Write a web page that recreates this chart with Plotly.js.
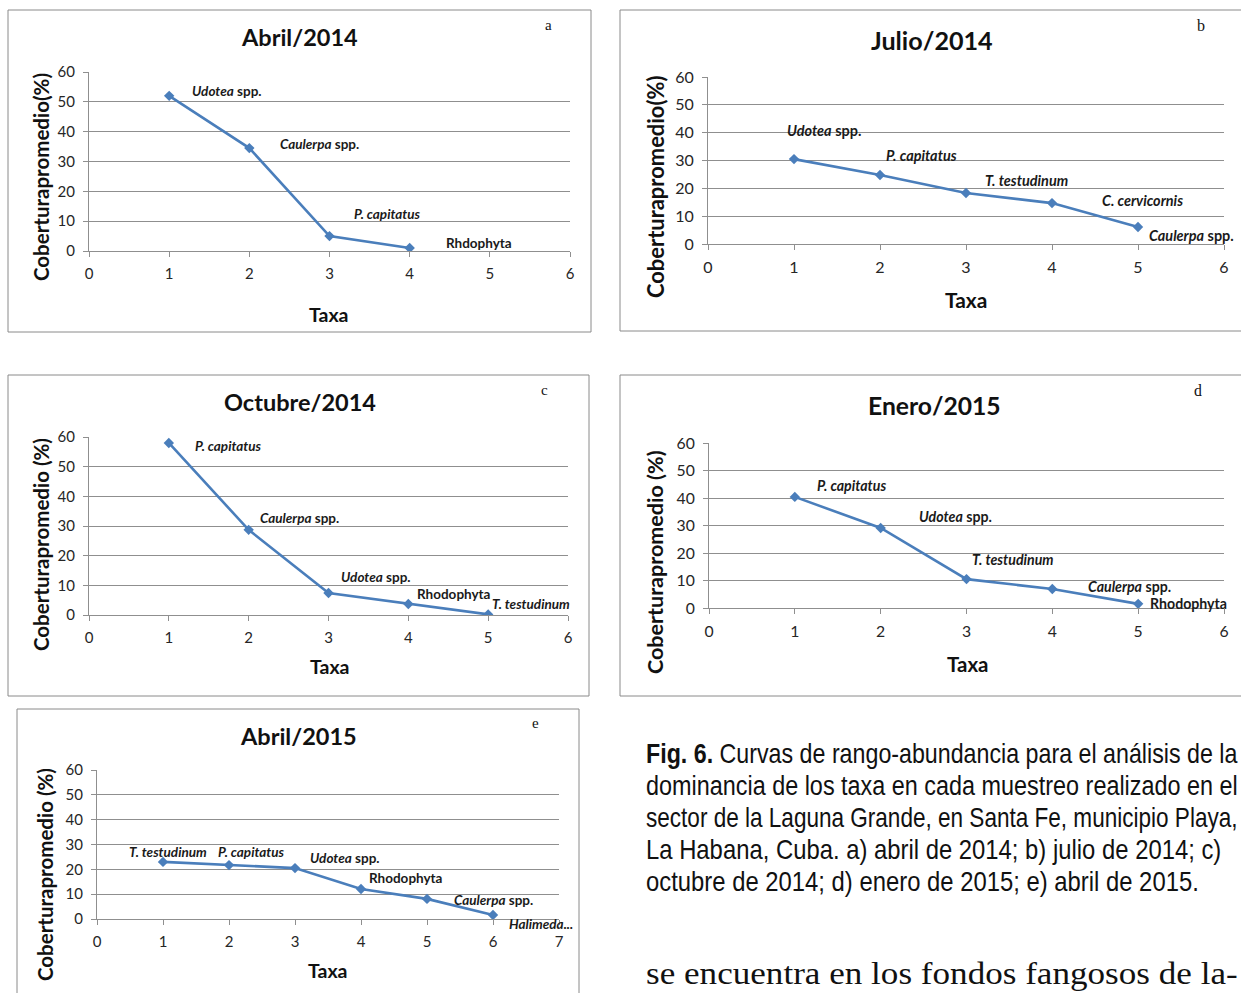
<!DOCTYPE html>
<html><head><meta charset="utf-8">
<script src="https://cdn.plot.ly/plotly-3.0.1.min.js"></script>
<style>html,body{margin:0;padding:0;background:#fff}</style>
</head><body><div id="chart" style="width:1241px;height:993px"></div>
<script>
// ---------------- data ----------------
const panelTitles = ["Abril/2014", "Julio/2014", "Octubre/2014", "Enero/2015", "Abril/2015"];
const panelLetters = ["a", "b", "c", "d", "e"];
const yAxisTitles = ["Coberturapromedio(%)", "Coberturapromedio(%)", "Coberturapromedio (%)", "Coberturapromedio (%)", "Coberturapromedio (%)"];
const xAxisTitle = "Taxa";
const yTicks = [0, 10, 20, 30, 40, 50, 60];

const rankA = [1, 2, 3, 4];
const coverA = [52, 34.5, 5, 1];
const taxaA = ["<i>Udotea</i> spp.", "<i>Caulerpa</i> spp.", "<i>P. capitatus</i>", "Rhdophyta"];

const rankB = [1, 2, 3, 4, 5];
const coverB = [30.5, 24.8, 18.3, 14.7, 6.1];
const taxaB = ["<i>Udotea</i> spp.", "<i>P. capitatus</i>", "<i>T. testudinum</i>", "<i>C. cervicornis</i>", "<i>Caulerpa</i> spp."];

const rankC = [1, 2, 3, 4, 5];
const coverC = [58, 28.7, 7.4, 3.7, 0.2];
const taxaC = ["<i>P. capitatus</i>", "<i>Caulerpa</i> spp.", "<i>Udotea</i> spp.", "Rhodophyta", "<i>T. testudinum</i>"];

const rankD = [1, 2, 3, 4, 5];
const coverD = [40.4, 29.1, 10.5, 6.9, 1.5];
const taxaD = ["<i>P. capitatus</i>", "<i>Udotea</i> spp.", "<i>T. testudinum</i>", "<i>Caulerpa</i> spp.", "Rhodophyta"];

const rankE = [1, 2, 3, 4, 5, 6];
const coverE = [23, 21.7, 20.5, 12.1, 8.1, 1.6];
const taxaE = ["<i>T. testudinum</i>", "<i>P. capitatus</i>", "<i>Udotea</i> spp.", "Rhodophyta", "<i>Caulerpa</i> spp.", "<i>Halimeda...</i>"];

const xMax = [6, 6, 6, 6, 7];

const captionLines = [
  "<b>Fig. 6.</b> Curvas de rango-abundancia para el análisis de la",
  "dominancia de los taxa en cada muestreo realizado en el",
  "sector de la Laguna Grande, en Santa Fe, municipio Playa,",
  "La Habana, Cuba. a) abril de 2014; b) julio de 2014; c)",
  "octubre de 2014; d) enero de 2015; e) abril de 2015."
];
const bodyText = "se encuentra en los fondos fangosos de la-";

// ---------------- geometry / style (pixels) ----------------
const W = 1241, H = 993;
const px = v => v / W, py = v => 1 - v / H;

const geo = [
  {box: [8, 10, 591, 332], plot: [89, 570, 72, 251], title: [299, 37], letter: [548, 25], ytitle: [41, 177], xtitle: [329, 314], s: 1.0},
  {box: [620, 10, 1260, 331], plot: [708, 1224, 77, 244], title: [932, 40], letter: [1201, 25], ytitle: [655, 187], xtitle: [966, 300], s: 1.07},
  {box: [8, 375, 589, 696], plot: [89, 568, 437, 615], title: [300, 402], letter: [544, 390], ytitle: [41, 545], xtitle: [330, 666], s: 1.0},
  {box: [620, 375, 1260, 696], plot: [709, 1224, 443, 608], title: [934, 405], letter: [1198, 390], ytitle: [655, 562], xtitle: [967, 664], s: 1.05},
  {box: [17, 709, 579, 1010], plot: [97, 559, 770, 919], title: [298, 736], letter: [535, 723], ytitle: [45, 875], xtitle: [328, 970], s: 1.0}
];

// label offsets (left edge dx, center dy) in pixels relative to the point
const labelOffsets = [
  [[21, -5], [29, -4], [22, -22], [34, -5]],
  [[-9, -29], [4, -19], [17, -13], [48, -3], [9, 8]],
  [[24, 3], [9, -12], [10, -16], [7, -10], [2, -10]],
  [[20, -11], [36, -11], [4, -20], [34, -3], [10, 0]],
  [[-36, -10], [-13, -13], [13, -10], [6, -11], [25, 1], [14, 9]]
];

const ranks = [rankA, rankB, rankC, rankD, rankE];
const covers = [coverA, coverB, coverC, coverD, coverE];
const taxa = [taxaA, taxaB, taxaC, taxaD, taxaE];

const FONT = "Lato, 'Open Sans', sans-serif";
const LINE = "#4a7ebb";
const GRID = "#8f8f8f";
const TXT = "#262626";

const traces = [];
const layout = {
  width: W, height: H,
  margin: {l: 0, r: 0, t: 0, b: 0},
  paper_bgcolor: "#fff", plot_bgcolor: "rgba(0,0,0,0)",
  showlegend: false,
  font: {family: FONT, color: TXT},
  annotations: [], shapes: []
};

for (let i = 0; i < 5; i++) {
  const g = geo[i];
  const sfx = i === 0 ? "" : String(i + 1);
  const xa = "x" + sfx, ya = "y" + sfx;
  traces.push({
    type: "scatter", mode: "lines+markers",
    x: ranks[i], y: covers[i], xaxis: xa, yaxis: ya,
    line: {color: LINE, width: 2.6},
    marker: {symbol: "diamond", size: 8, color: LINE},
    hoverinfo: "x+y"
  });
  const tickSize = 15 * g.s;
  layout["xaxis" + sfx] = {
    domain: [px(g.plot[0]), px(g.plot[1])], anchor: ya,
    range: [0, xMax[i]], dtick: 1, tick0: 0,
    showgrid: false, zeroline: false,
    showline: true, linecolor: GRID, linewidth: 1,
    ticks: "outside", ticklen: 5, tickcolor: GRID,
    ticklabelstandoff: 4,
    tickfont: {family: FONT, size: tickSize, color: TXT},
    fixedrange: true
  };
  layout["yaxis" + sfx] = {
    domain: [py(g.plot[3]), py(g.plot[2])], anchor: xa,
    range: [0, 60], tickvals: yTicks,
    showgrid: true, gridcolor: GRID, gridwidth: 1, zeroline: false,
    showline: true, linecolor: GRID, linewidth: 1,
    ticks: "outside", ticklen: 5, tickcolor: GRID,
    ticklabelstandoff: 5,
    tickfont: {family: FONT, size: tickSize, color: TXT},
    fixedrange: true
  };
  // panel box
  layout.shapes.push({type: "rect", xref: "paper", yref: "paper",
    x0: px(g.box[0]), x1: px(g.box[2]), y0: py(g.box[3]), y1: py(g.box[1]),
    line: {color: "#8a8a8a", width: 1}, fillcolor: "rgba(0,0,0,0)", layer: "below"});
  // title
  layout.annotations.push({xref: "paper", yref: "paper", x: px(g.title[0]), y: py(g.title[1]),
    xanchor: "center", yanchor: "middle", showarrow: false,
    text: "<b>" + panelTitles[i] + "</b>", font: {family: FONT, size: 23.5 * g.s, color: "#111"}});
  // letter
  layout.annotations.push({xref: "paper", yref: "paper", x: px(g.letter[0]), y: py(g.letter[1]),
    xanchor: "center", yanchor: "middle", showarrow: false,
    text: panelLetters[i], font: {family: "'Liberation Serif', serif", size: 15 * g.s, color: "#111"}});
  // y title
  layout.annotations.push({xref: "paper", yref: "paper", x: px(g.ytitle[0]), y: py(g.ytitle[1]),
    xanchor: "center", yanchor: "middle", showarrow: false, textangle: -90,
    text: "<b>" + yAxisTitles[i] + "</b>", font: {family: FONT, size: 20.5 * g.s, color: "#111"}});
  // x title
  layout.annotations.push({xref: "paper", yref: "paper", x: px(g.xtitle[0]), y: py(g.xtitle[1]),
    xanchor: "center", yanchor: "middle", showarrow: false,
    text: "<b>" + xAxisTitle + "</b>", font: {family: FONT, size: 19.5 * g.s, color: "#111"}});
  // data labels
  for (let k = 0; k < ranks[i].length; k++) {
    const off = labelOffsets[i][k];
    layout.annotations.push({xref: xa, yref: ya, x: ranks[i][k], y: covers[i][k],
      xanchor: "left", yanchor: "middle", showarrow: false,
      xshift: off[0], yshift: -off[1],
      text: "<b>" + taxa[i][k] + "</b>", font: {family: FONT, size: 13.5 * g.s, color: "#1a1a1a"}});
  }
}

// caption lines (one annotation per line so that the line pitch matches)
const fitList = [];
const CAP_LEFT = 644, CAP_RIGHT_MAX = 1238;
captionLines.forEach((t, j) => {
  fitList.push(layout.annotations.length);
  layout.annotations.push({xref: "paper", yref: "paper", x: px(CAP_LEFT), y: py(753 + 32 * j),
    xanchor: "left", yanchor: "middle", align: "left", showarrow: false,
    text: t, font: {family: "'Liberation Sans', Arial, sans-serif", size: 28, color: "#111"}});
});
const bodyIndex = layout.annotations.length;
layout.annotations.push({xref: "paper", yref: "paper", x: px(CAP_LEFT), y: py(973),
  xanchor: "left", yanchor: "middle", align: "left", showarrow: false,
  text: bodyText,
  font: {family: "'Liberation Serif', 'DejaVu Serif', serif", size: 32, color: "#111"}});

function textOf(idx) {
  const t = document.querySelector('#chart g.annotation[data-index="' + idx + '"] text');
  if (!t) return null;
  return {t, bb: t.getBBox(), rect: t.getBoundingClientRect()};
}
function scaleX(item, k) {
  const x0 = item.bb.x;
  const prev = item.t.getAttribute("transform") || "";
  item.t.setAttribute("transform", prev + " translate(" + x0 + ",0) scale(" + k + ",1) translate(" + (-x0) + ",0)");
}

Plotly.newPlot("chart", traces, layout, {displayModeBar: false, staticPlot: true}).then(() => {
  const host = document.getElementById("chart").getBoundingClientRect();
  // condensed caption face: horizontal scale from the left edge
  const items = fitList.map(textOf).filter(Boolean);
  if (items.length) {
    const last = items[items.length - 1];
    const kNat = 553 / last.rect.width; // last (unjustified) line ends at x≈1197
    items.forEach(it => {
      const left = it.rect.left - host.left;
      const k = Math.min(kNat, (CAP_RIGHT_MAX - left) / it.rect.width);
      scaleX(it, k);
    });
  }
  const b = textOf(bodyIndex);
  if (b) {
    const left = b.rect.left - host.left;
    scaleX(b, (CAP_RIGHT_MAX - left) / b.rect.width);
  }
});
</script>
</body></html>
